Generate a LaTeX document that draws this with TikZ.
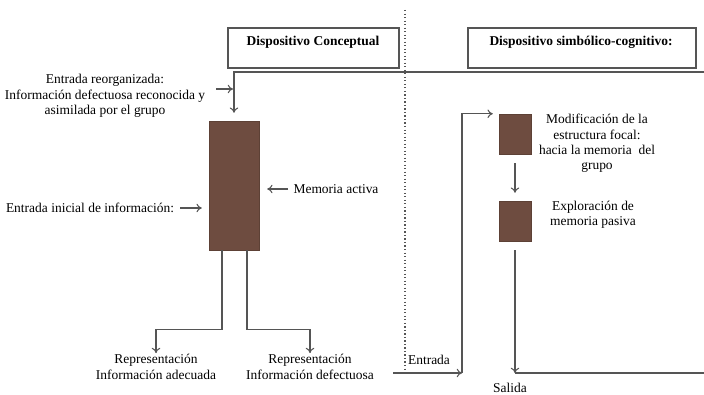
\documentclass[tikz,border=0pt]{standalone}
\usepackage{fontspec}
\setmainfont{Liberation Serif}
\usetikzlibrary{calc}
\usetikzlibrary{arrows.meta}
\definecolor{memcolor}{RGB}{110,76,64}
\definecolor{linecolor}{RGB}{85,85,85}
\tikzset{
	memstyle/.style={rectangle,fill=memcolor,draw=memcolor!85!black,inner sep=0pt},
	boxstyle/.style={rectangle,draw=linecolor,line width=1pt,inner sep=0pt},
	titlestyle/.style={rectangle,font=\bfseries,inner sep=1pt},
	textstyle/.style={rectangle,align=center,inner sep=1pt},
	flowstyle/.style={-{To[length=1.6mm,width=2.6mm]},draw=linecolor,line width=0.9pt},
	linestyle/.style={draw=linecolor,line width=0.9pt}
}

\begin{document}
\begin{tikzpicture}[x=0.03cm,y=-0.03cm]
		\fontsize{11.5}{13.2}\selectfont
		\useasboundingbox (0,0) rectangle (704,394);
		% titulos
		\node[boxstyle,minimum width=5.13cm,minimum height=1.2cm] (concbox) at (313.5,48) {};
		\node[boxstyle,minimum width=6.84cm,minimum height=1.2cm] (simbbox) at (582,48) {};
		\node[titlestyle] (conc) at (313,42) {Dispositivo Conceptual};
		\node[titlestyle] (simb) at (581,42) {Dispositivo simbólico-cognitivo:};
		% division
		\coordinate (divtop) at (405,10);
		\coordinate (divbot) at (405,372);
		\draw[dotted,line width=1pt,linecolor] (divtop)--(divbot);
		% dispositivo conceptual
		\node[memstyle,minimum width=1.5cm,minimum height=3.87cm] (mem) at (234,185.5) {};
		\node[textstyle] (reorg) at (105,96) {Entrada reorganizada:\\Información defectuosa reconocida y\\asimilada por el grupo};
		\node[textstyle] (ini) at (90,208) {Entrada inicial de información:};
		\node[textstyle] (act) at (336,189) {Memoria activa};
		\node[textstyle] (adeq) at (156,367) {Representación\\Información adecuada};
		\node[textstyle] (defec) at (310,367) {Representación\\Información defectuosa};
		\coordinate (topR) at (704,72);
		\coordinate (reorgin) at (216,89);
		\coordinate (reorgend) at (233,89);
		\draw[flowstyle,shorten >=0.24cm] (topR) -| (mem.north);
		\draw[flowstyle] (reorgin)--(reorgend);
		\draw[flowstyle,shorten <=0.15cm,shorten >=0.21cm] (ini.east) -- (ini.east -| mem.west);
		\draw[flowstyle,shorten <=0.12cm,shorten >=0.24cm] (act.west) -- (act.west -| mem.east);
		\draw[flowstyle] ([xshift=-0.36cm]mem.south) -- ++(0,79) -| (adeq.north);
		\draw[flowstyle] ([xshift=0.39cm]mem.south) -- ++(0,79) -| (defec.north);
		% dispositivo simbolico-cognitivo
		\node[memstyle,minimum width=0.96cm,minimum height=1.2cm] (foc) at (515,134) {};
		\node[memstyle,minimum width=0.96cm,minimum height=1.2cm] (expl) at (515,221) {};
		\node[textstyle] (foctxt) at (597,143.5) {Modificación de la\\estructura focal:\\hacia la memoria\ \ del\\grupo};
		\node[textstyle] (expltxt) at (593,214.5) {Exploración de\\memoria pasiva};
		\node[textstyle] (ent) at (429,360) {Entrada};
		\node[textstyle] (sal) at (510,388) {Salida};
		\coordinate (entin) at (393,373);
		\coordinate (entend) at (462,373);
		\coordinate (salpt) at (515,373);
		\coordinate (botR) at (704,373);
		\draw[flowstyle] (entin)--(entend);
		\draw[flowstyle,shorten >=0.18cm] (entend) |- (foc.north west);
		\draw[flowstyle,shorten <=0.27cm,shorten >=0.24cm] (foc)--(expl);
		\draw[flowstyle,shorten <=0.27cm] (expl.south)--(salpt);
		\draw[linestyle] (salpt)--(botR);
\end{tikzpicture}
\end{document}
